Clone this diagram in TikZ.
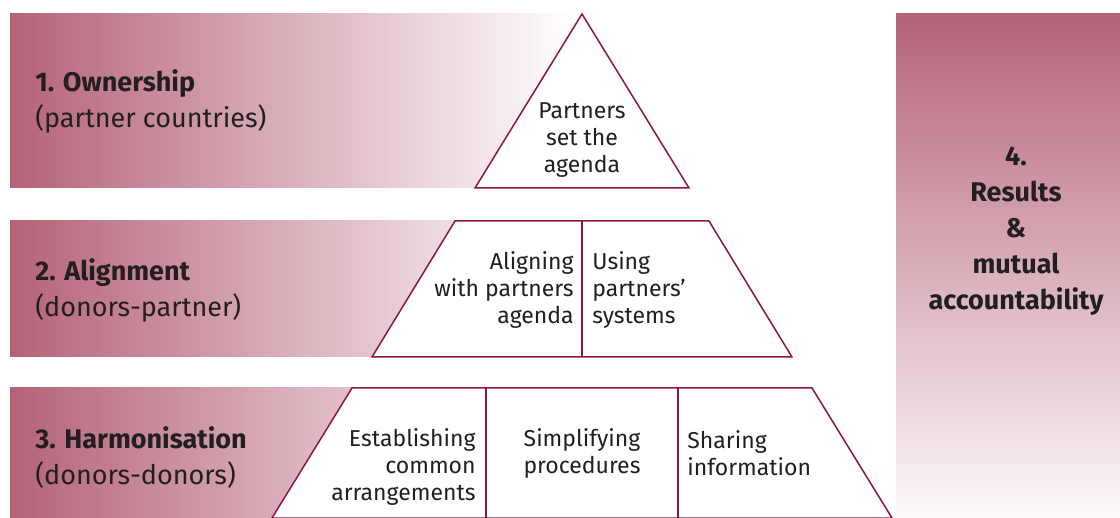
\documentclass[tikz,border=0pt]{standalone}
\usepackage{fontspec}
\setmainfont{Fira Sans}
\usetikzlibrary{positioning}

\definecolor{mauve}{RGB}{181,98,120}
\definecolor{edgered}{RGB}{140,22,64}
\definecolor{ink}{RGB}{35,31,32}

\begin{document}
\begin{tikzpicture}[x=0.5pt, y=-0.5pt,
	band/.style={left color=mauve, right color=white},
	block/.style={draw=edgered, line width=0.75pt, fill=white, line join=miter},
	divider/.style={draw=edgered, line width=0.75pt},
	title/.style={anchor=west, align=left, inner sep=0pt, text=ink, font=\fontsize{13.5}{18}\selectfont},
	step text/.style={inner sep=0pt, text=ink, font=\fontsize{11.5}{13.5}\selectfont}]
	\useasboundingbox (0,0) rectangle (1120,518);

	% principle bands
	\shade[band] (10,14) rectangle (575,188);
	\shade[band] (10,221) rectangle (575,357);
	\shade[band] (10,388) rectangle (575,518);
	\shade[top color=mauve, bottom color=mauve!4] (896,14) rectangle (1120,518);

	% pyramid
	\coordinate (apex) at (582,14);
	\draw[block] (apex) -- (475,188) -- (689,188) -- cycle;
	\draw[block] (455,221) -- (709,221) -- (792,357) -- (372,357) -- cycle;
	\draw[block] (352,388) -- (812,388) -- (892,518) -- (272,518) -- cycle;
	\draw[divider] (582,221) -- (582,357);
	\draw[divider] (486,388) -- (486,518);
	\draw[divider] (678,388) -- (678,518);

	% left labels
	\node[title] (own) at (35,101) {\textbf{1. Ownership}\\(partner countries)};
	\node[title] (ali) at (35,290) {\textbf{2. Alignment}\\(donors-partner)};
	\node[title] (har) at (35,458) {\textbf{3. Harmonisation}\\(donors-donors)};

	% pyramid texts
	\node[step text, align=center] (agenda) at (582,140) {Partners\\set the\\agenda};
	\node[step text, align=right, anchor=east] (aligning) at (574,290) {Aligning\\with partners\\agenda};
	\node[step text, align=left, anchor=west] (systems) at (592,290) {Using\\partners’\\systems};
	\node[step text, align=right, anchor=east] (common) at (476,467) {Establishing\\common\\arrangements};
	\node[step text, align=center] (simple) at (582,453) {Simplifying\\procedures};
	\node[step text, align=left, anchor=west] (sharing) at (687,453) {Sharing\\information};

	% right column
	\node[inner sep=0pt, align=center, text=ink, font=\bfseries\fontsize{13.5}{18}\selectfont] (results) at (1016,231)
		{4.\\Results\\\&\\mutual\\accountability};
\end{tikzpicture}
\end{document}
